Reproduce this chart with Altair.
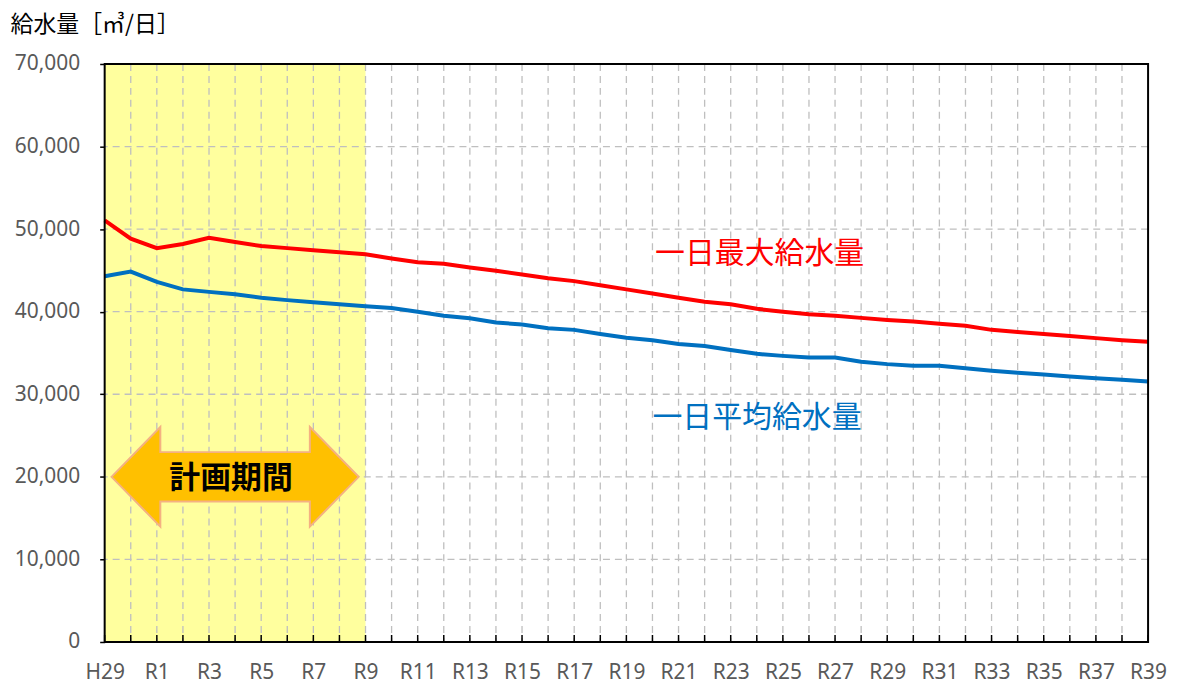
import json
import altair as alt
import pandas as pd

# ---- data ----
labels = ["H29", "H30", "R1", "R2", "R3", "R4", "R5", "R6", "R7", "R8", "R9",
          "R10", "R11", "R12", "R13", "R14", "R15", "R16", "R17", "R18", "R19",
          "R20", "R21", "R22", "R23", "R24", "R25", "R26", "R27", "R28", "R29",
          "R30", "R31", "R32", "R33", "R34", "R35", "R36", "R37", "R38", "R39"]

max_supply = [51050, 48850, 47700, 48200, 48950, 48450, 47950, 47700, 47450, 47200, 46950,
              46450, 46000, 45800, 45350, 44950, 44500, 44050, 43700, 43200, 42700,
              42200, 41700, 41200, 40900, 40350, 40000, 39700, 39500, 39250, 39000,
              38800, 38550, 38300, 37800, 37550, 37300, 37050, 36800, 36550, 36350]

avg_supply = [44300, 44850, 43600, 42700, 42400, 42100, 41700, 41400, 41150, 40900, 40650,
              40450, 40000, 39500, 39200, 38700, 38450, 38000, 37800, 37300, 36850,
              36550, 36100, 35850, 35350, 34900, 34650, 34450, 34450, 33950, 33650,
              33450, 33450, 33150, 32850, 32600, 32400, 32150, 31950, 31750, 31550]

series_names = ["一日最大給水量", "一日平均給水量"]
series_colors = ["#FF0000", "#0070C0"]
series_label_x = [21.1, 21.0]
series_label_y = [46950, 27150]

y_ticks = [0, 10000, 20000, 30000, 40000, 50000, 60000, 70000]
y_title = "給水量［㎥/日］"

plan_start = "H29"
plan_end = "R9"
plan_label = "計画期間"
plan_value = 20000

# ---- tables ----
idx = list(range(len(labels)))
rows = []
for name, vals in zip(series_names, [max_supply, avg_supply]):
    for i, v in zip(idx, vals):
        rows.append({"idx": i, "value": v, "series": name})
df_lines = pd.DataFrame(rows)
df_x = pd.DataFrame({"idx": idx[1:-1]})
df_xt = pd.DataFrame({"idx": idx})
df_y = pd.DataFrame({"value": y_ticks[1:-1]})
s_i, e_i = labels.index(plan_start), labels.index(plan_end)
df_plan = pd.DataFrame({"idx": [s_i], "idx2": [e_i]})
df_arrow = pd.DataFrame({"idx": [(s_i + e_i) / 2], "value": [plan_value], "text": [plan_label]})
df_lab = pd.DataFrame({"idx": series_label_x, "value": series_label_y, "series": series_names})
df_one = pd.DataFrame({"k": [0]})

W, H = 1047, 580
NUM_FONT = "Noto Sans"
JP_FONT = "Noto Sans CJK JP"

label_expr = f"datum.value % 2 == 0 ? {json.dumps(labels, ensure_ascii=False)}[datum.value] : ''"

x_enc = alt.X("idx:Q",
              scale=alt.Scale(domain=[0, len(labels) - 1], nice=False, zero=False),
              axis=alt.Axis(values=idx, labelExpr=label_expr, grid=False, ticks=False,
                            domain=False, title=None, labelOverlap=False, labelFlush=False,
                            labelFont=NUM_FONT, labelFontSize=21, labelColor="#595959",
                            labelPadding=20))
y_enc = alt.Y("value:Q",
              scale=alt.Scale(domain=[0, 70000], nice=False),
              axis=alt.Axis(values=y_ticks, format=",.0f", grid=False, domain=False,
                            tickSize=5, tickColor="black", tickWidth=1.5,
                            labelPadding=20, labelFont=NUM_FONT, labelFontSize=21,
                            labelColor="#595959",
                            title=y_title, titleAngle=0, titleX=-95, titleY=-40,
                            titleAlign="left", titleBaseline="middle", titleFont=JP_FONT,
                            titleFontSize=23, titleFontWeight="normal", titleColor="black"))

color_enc = alt.Color("series:N", scale=alt.Scale(domain=series_names, range=series_colors),
                      legend=None)

plan_rect = alt.Chart(df_plan).mark_rect(color="#FFFF9E").encode(
    x=x_enc, x2="idx2:Q")

vgrid = alt.Chart(df_x).mark_rule(color="#BFBFBF", strokeDash=[7, 5], strokeWidth=1.3).encode(
    x=x_enc)
hgrid = alt.Chart(df_y).mark_rule(color="#BFBFBF", strokeDash=[7, 5], strokeWidth=1.3).encode(
    y=y_enc)
in_ticks = alt.Chart(df_xt).mark_rule(color="black", strokeWidth=1.5).encode(
    x=x_enc, y=alt.value(H), y2=alt.value(H - 7))

lines = alt.Chart(df_lines).mark_line(strokeWidth=4).encode(
    x=x_enc, y=y_enc, color=color_enc, detail="series:N")

arrow_path = ("M -1 0 L -0.605 -0.403 L -0.605 -0.2 L 0.605 -0.2 L 0.605 -0.403 "
              "L 1 0 L 0.605 0.403 L 0.605 0.2 L -0.605 0.2 L -0.605 0.403 Z")
arrow = alt.Chart(df_arrow).mark_point(shape=arrow_path, size=248 * 248, filled=True,
                                       fill="#FFC000", stroke="#F4B183", strokeWidth=2,
                                       opacity=1, dx=-3).encode(x=x_enc, y=y_enc)
arrow_text = alt.Chart(df_arrow).mark_text(font=JP_FONT, fontSize=31, fontWeight="bold",
                                           color="black", dx=-4, dy=2).encode(
    x=x_enc, y=y_enc, text="text:N")

series_text = alt.Chart(df_lab).mark_text(font=JP_FONT, fontSize=30, align="left",
                                          baseline="middle").encode(
    x=x_enc, y=y_enc, text="series:N", color=color_enc)

frame = alt.Chart(df_one).mark_rect(fillOpacity=0, stroke="black", strokeWidth=2).encode(
    x=alt.value(0), x2=alt.value(W), y=alt.value(0), y2=alt.value(H))

chart = alt.layer(plan_rect, vgrid, hgrid, in_ticks, lines, arrow, arrow_text, series_text,
                  frame).properties(
    width=W, height=H,
    autosize=alt.AutoSizeParams(type="none"),
    padding={"left": 97, "top": 55, "right": 22, "bottom": 44},
    background="white",
).configure_view(strokeWidth=0)

chart.save("out.html", embed_options={"renderer": "svg", "actions": False})
